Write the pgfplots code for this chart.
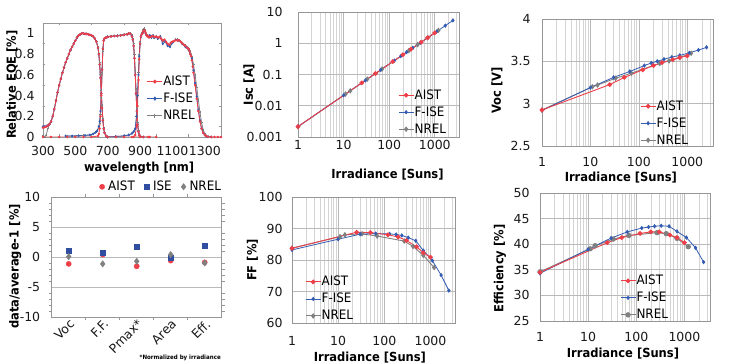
\documentclass[border=0pt]{standalone}
\usepackage{fontspec}
\setmainfont{DejaVu Sans}[FakeStretch=0.92]
\newfontfamily\tickfont{DejaVu Sans}
\usepackage{pgfplots}
\pgfplotsset{compat=1.18}
\definecolor{cA}{RGB}{238,62,72}
\definecolor{cF}{RGB}{52,92,178}
\definecolor{cN}{RGB}{128,128,128}
\definecolor{cS}{RGB}{48,78,160}
\definecolor{gmaj}{RGB}{185,185,185}
\definecolor{gmin}{RGB}{212,212,212}
\definecolor{axc}{RGB}{150,150,150}
\pgfplotsset{
  base/.style={
    scale only axis, anchor=north west,
    axis line style={draw=axc, line width=0.6pt},
    tick label style={font=\tickfont\fontsize{12.5}{13}\selectfont, text=black!90},
    label style={font=\bfseries\fontsize{12.5}{13}\selectfont},
    /pgf/number format/assume math mode=true,
    /pgf/number format/1000 sep={},
    legend cell align=left,
    tick align=outside, major tick length=0pt, minor tick length=2.5pt,
    tick style={draw=axc, line width=0.5pt},
    legend image code/.code={\draw[mark repeat=2,mark phase=2,##1] plot coordinates {(0pt,0pt) (7.5pt,0pt) (15pt,0pt)};},
    legend style={draw=none, fill=none, inner sep=0pt, anchor=north west, row sep=5pt,
      font=\fontsize{13}{14}\selectfont,
      nodes={inner sep=0.5pt, text height=9.5pt, text depth=1.5pt}},
  },
  logp/.style={
    base, xmin=1, xmax=3400,
    xtick={1,10,100,1000}, xticklabels={1,10,100,1000},
    minor xtick={2,3,4,5,6,7,8,9,20,30,40,50,60,70,80,90,200,300,400,500,600,700,800,900,2000,3000},
    minor tick length=0pt,
    xmajorgrids, xminorgrids, ymajorgrids,
    major grid style={draw=gmaj, line width=0.6pt},
    minor grid style={draw=gmin, line width=0.5pt},
  },
  pA/.style={color=cA, line width=0.9pt, mark=*, mark size=1.9pt},
  pF/.style={color=cF, line width=0.8pt, mark=diamond*, mark size=1.6pt},
  pN/.style={color=cN, line width=0.9pt, mark=diamond*, mark size=2.1pt},
  eA/.style={color=cA, line width=0.8pt, mark=*, mark size=0.8pt},
  eF/.style={color=cF, line width=0.8pt, mark=diamond*, mark size=0.9pt},
  eN/.style={color=cN, line width=0.8pt, mark=+, mark size=1.1pt},
}
\begin{document}
\begin{tikzpicture}
\useasboundingbox (0pt,0pt) rectangle (731pt,363pt);

% ---------------- EQE ----------------
\begin{axis}[base, at={(43pt,340pt)}, width=178pt, height=114pt,
  xmin=300, xmax=1400, ymin=0, ymax=1.1,
  xtick={300,500,700,900,1100,1300}, ytick={0,0.2,0.4,0.6,0.8,1},
  minor xtick={400,600,800,1000,1200},
  minor ytick={0.1,0.3,0.5,0.7,0.9},
  tick align=inside,
  xticklabel style={yshift=-6pt}, yticklabel style={xshift=-5pt},
  xlabel={wavelength [nm]}, ylabel={Relative EQE [\%]},
  xlabel style={at={(axis description cs:0.54,0)}, anchor=center, yshift=-31pt},
  ylabel style={at={(axis description cs:-0.174,0.46)}, anchor=center},
  legend style={at={(axis description cs:0.583,0.54)}},
]
\addlegendimage{eA, mark size=1.5pt}\addlegendentry{AIST}
\addlegendimage{eF, mark size=1.6pt}\addlegendentry{F-ISE}
\addlegendimage{eN, mark size=2pt}\addlegendentry{NREL}
% NREL
\addplot[eN, forget plot] coordinates {(300,0.02)(310,0.0)(320,0.02)(330,0.08)(340,0.12)(350,0.15)(360,0.2)(370,0.27)(380,0.35)(390,0.43)(400,0.5)(410,0.56)(420,0.62)(430,0.67)(440,0.72)(450,0.76)(460,0.8)(470,0.84)(480,0.87)(490,0.9)(500,0.93)(510,0.96)(520,0.98)(530,0.99)(540,1.0)(550,1.0)(560,0.995)(570,0.995)(580,0.99)(590,0.985)(600,0.98)(610,0.97)(620,0.95)(630,0.92)(640,0.87)(645,0.81)(650,0.72)(655,0.6)(660,0.45)(665,0.31)(670,0.18)(675,0.09)(680,0.04)(690,0.01)(700,0.0)};
\addplot[eN, forget plot] coordinates {(450,0.01)(500,0.01)(550,0.015)(590,0.02)(610,0.03)(625,0.045)(635,0.06)(645,0.09)(650,0.13)(655,0.22)(660,0.38)(665,0.62)(670,0.83)(675,0.93)(680,0.95)(690,0.965)(700,0.97)(720,0.975)(740,0.975)(760,0.98)(780,0.985)(800,0.99)(820,0.995)(830,1.0)(840,1.0)(850,0.98)(855,0.95)(860,0.9)(865,0.8)(870,0.64)(875,0.46)(880,0.28)(885,0.14)(890,0.06)(895,0.02)(900,0.01)(920,0.0)};
\addplot[eN, forget plot] coordinates {(700,0.0)(750,0.005)(800,0.01)(830,0.02)(850,0.035)(860,0.05)(870,0.08)(878,0.2)(884,0.4)(890,0.62)(895,0.8)(900,0.92)(910,1.0)(920,1.04)(925,1.05)(930,1.03)(940,0.99)(950,0.97)(960,0.98)(970,0.97)(985,0.96)(1000,0.97)(1010,0.95)(1025,0.96)(1040,0.92)(1055,0.93)(1070,0.89)(1085,0.88)(1100,0.91)(1115,0.93)(1130,0.94)(1145,0.93)(1160,0.91)(1175,0.89)(1190,0.87)(1200,0.855)(1210,0.83)(1220,0.78)(1230,0.7)(1240,0.6)(1250,0.48)(1260,0.36)(1270,0.24)(1280,0.14)(1290,0.07)(1300,0.03)(1310,0.01)(1320,0.0)(1340,0.0)};
% F-ISE
\addplot[eF, forget plot] coordinates {(300,0.1)(310,0.1)(320,0.105)(330,0.11)(340,0.125)(350,0.15)(360,0.2)(370,0.27)(380,0.35)(390,0.43)(400,0.5)(410,0.56)(420,0.62)(430,0.67)(440,0.72)(450,0.76)(460,0.8)(470,0.84)(480,0.87)(490,0.9)(500,0.93)(510,0.96)(520,0.98)(530,0.99)(540,1.0)(550,1.0)(560,0.995)(570,0.995)(580,0.99)(590,0.985)(600,0.98)(610,0.97)(620,0.95)(630,0.92)(640,0.86)(645,0.8)(650,0.7)(655,0.57)(660,0.42)(665,0.28)(670,0.16)(675,0.08)(680,0.04)(690,0.01)(700,0.0)};
\addplot[eF, forget plot] coordinates {(440,0.01)(480,0.01)(520,0.012)(560,0.015)(590,0.02)(610,0.03)(625,0.045)(635,0.06)(645,0.1)(650,0.15)(655,0.25)(660,0.42)(665,0.65)(670,0.85)(675,0.93)(680,0.95)(690,0.96)(700,0.965)(720,0.97)(740,0.975)(760,0.975)(780,0.98)(800,0.985)(820,0.99)(830,1.0)(840,0.995)(850,0.97)(855,0.94)(860,0.88)(865,0.76)(870,0.6)(875,0.42)(880,0.25)(885,0.12)(890,0.05)(895,0.02)(900,0.005)(920,0.0)};
\addplot[eF, forget plot] coordinates {(700,0.0)(750,0.005)(800,0.01)(830,0.02)(850,0.035)(860,0.05)(870,0.08)(878,0.2)(884,0.4)(890,0.6)(895,0.78)(900,0.9)(905,0.97)(910,0.99)(915,1.0)(920,1.02)(925,1.03)(930,1.02)(935,1.0)(940,0.98)(950,0.97)(960,0.98)(970,0.96)(980,0.98)(990,0.96)(1000,0.97)(1010,0.95)(1025,0.97)(1040,0.9)(1055,0.92)(1070,0.88)(1085,0.87)(1100,0.91)(1120,0.94)(1140,0.93)(1160,0.9)(1180,0.87)(1200,0.84)(1210,0.8)(1220,0.76)(1230,0.64)(1240,0.52)(1250,0.39)(1260,0.26)(1270,0.16)(1280,0.08)(1290,0.04)(1300,0.02)(1310,0.008)(1320,0.003)(1340,0.0)};
% AIST
\addplot[eA, forget plot] coordinates {(300,0.09)(310,0.095)(320,0.1)(330,0.11)(340,0.125)(350,0.15)(360,0.2)(370,0.27)(380,0.35)(390,0.43)(400,0.5)(410,0.56)(420,0.62)(430,0.67)(440,0.72)(450,0.76)(460,0.8)(470,0.84)(480,0.87)(490,0.9)(500,0.93)(510,0.96)(520,0.98)(530,0.99)(540,1.0)(550,1.0)(560,0.995)(570,0.995)(580,0.99)(590,0.985)(600,0.98)(610,0.97)(620,0.95)(630,0.92)(640,0.86)(645,0.8)(650,0.7)(655,0.57)(660,0.42)(665,0.28)(670,0.16)(675,0.08)(680,0.04)(690,0.01)(700,0.0)(750,0.0)(800,0.0)(850,0.0)(900,0.0)(950,0.0)(1000,0.0)};
\addplot[eA, forget plot] coordinates {(300,0.0)(350,0.0)(400,0.0)(450,0.0)(500,0.0)(550,0.0)(600,0.0)(640,0.01)(645,0.03)(650,0.08)(655,0.2)(660,0.4)(665,0.65)(670,0.85)(675,0.93)(680,0.95)(690,0.96)(700,0.965)(720,0.97)(740,0.975)(760,0.975)(780,0.98)(800,0.985)(820,0.99)(830,1.0)(840,0.995)(850,0.97)(855,0.94)(860,0.88)(865,0.76)(870,0.6)(875,0.42)(880,0.25)(885,0.12)(890,0.05)(895,0.02)(900,0.005)(920,0.0)(960,0.0)};
\addplot[eA, forget plot] coordinates {(860,0.0)(870,0.02)(878,0.1)(884,0.3)(890,0.55)(895,0.75)(900,0.9)(905,0.97)(910,0.99)(915,1.0)(920,1.02)(925,1.03)(930,1.02)(935,1.0)(940,0.98)(945,0.97)(950,0.975)(955,0.96)(960,0.965)(970,0.97)(980,0.975)(990,0.965)(1000,0.97)(1010,0.96)(1020,0.965)(1030,0.95)(1040,0.93)(1050,0.94)(1060,0.92)(1070,0.9)(1080,0.89)(1090,0.91)(1100,0.92)(1110,0.925)(1120,0.935)(1130,0.93)(1140,0.935)(1150,0.92)(1160,0.905)(1170,0.89)(1180,0.88)(1190,0.86)(1200,0.85)(1205,0.83)(1210,0.8)(1215,0.78)(1220,0.74)(1225,0.68)(1230,0.62)(1240,0.5)(1250,0.37)(1260,0.25)(1270,0.15)(1280,0.08)(1290,0.04)(1300,0.02)(1310,0.008)(1320,0.003)(1340,0.0)(1360,0.0)(1380,0.0)(1400,0.0)};
\end{axis}

% ---------------- Isc ----------------
\begin{axis}[logp, xmode=log, ymode=log, at={(298pt,351pt)}, width=161pt, height=125pt,
  ymin=0.001, ymax=10,
  ytick={0.001,0.01,0.1,1,10}, yticklabels={0.001,0.01,0.1,1,10},
  yticklabel style={xshift=-12pt},
  xlabel={Irradiance [Suns]}, ylabel={Isc [A]},
  xlabel style={at={(axis description cs:0.556,0)}, anchor=center, yshift=-38pt},
  ylabel style={at={(axis description cs:-0.304,0.42)}, anchor=center},
  legend style={at={(axis description cs:0.621,0.384)}},
]
\addlegendimage{pA}\addlegendentry{AIST}
\addlegendimage{pF}\addlegendentry{F-ISE}
\addlegendimage{pN}\addlegendentry{NREL}
\addplot[pN, forget plot] coordinates {(1,0.00215)(11,0.02365)(14,0.0301)(33,0.07095)(70,0.1505)(270,0.5805)(420,0.903)(700,1.505)(1200,2.58)};
\addplot[pF, forget plot] coordinates {(1,0.00215)(10,0.0215)(30,0.0645)(65,0.13975)(130,0.2795)(180,0.387)(240,0.516)(330,0.7095)(480,1.032)(700,1.505)(1100,2.365)(1700,3.655)(2500,5.375)};
\addplot[pA, forget plot] coordinates {(1,0.00215)(25,0.05375)(50,0.1075)(120,0.258)(200,0.43)(300,0.645)(500,1.075)(700,1.505)(1000,2.15)};
\end{axis}

% ---------------- Voc ----------------
\begin{axis}[logp, xmode=log, at={(542pt,344pt)}, width=171pt, height=127pt,
  ymin=2.5, ymax=4, ytick={2.5,3,3.5,4},
  xticklabel style={yshift=-8pt}, yticklabel style={xshift=-8pt},
  xlabel={Irradiance [Suns]}, ylabel={Voc [V]},
  xlabel style={at={(axis description cs:0.461,0)}, anchor=center, yshift=-32pt},
  ylabel style={at={(axis description cs:-0.263,0.44)}, anchor=center},
  legend style={at={(axis description cs:0.573,0.362)}},
]
\addlegendimage{pA}\addlegendentry{AIST}
\addlegendimage{pF}\addlegendentry{F-ISE}
\addlegendimage{pN}\addlegendentry{NREL}
\addplot[pN, forget plot] coordinates {(1,2.925)(11,3.2)(14,3.22)(33,3.3)(70,3.36)(270,3.475)(420,3.505)(700,3.545)(1200,3.595)};
\addplot[pF, forget plot] coordinates {(1,2.92)(10,3.19)(30,3.31)(65,3.38)(130,3.45)(180,3.48)(240,3.5)(330,3.525)(480,3.55)(700,3.57)(1100,3.6)(1700,3.633)(2500,3.665)};
\addplot[pA, forget plot] coordinates {(1,2.925)(25,3.225)(50,3.31)(120,3.4)(200,3.45)(300,3.485)(500,3.52)(700,3.545)(1000,3.565)};
\end{axis}

% ---------------- Deviation ----------------
\begin{axis}[base, at={(51.7pt,166pt)}, width=170pt, height=120pt,
  xmin=-0.5, xmax=4.5, ymin=-10, ymax=10,
  xtick={0,1,2,3,4}, xticklabels={Voc,F.F.,Pmax*,Area,Eff.},
  minor xtick={0.5,1.5,2.5,3.5},
  ytick={-10,-5,0,5,10}, minor ytick={-9,-8,-7,-6,-4,-3,-2,-1,1,2,3,4,6,7,8,9},
  ymajorgrids, major grid style={draw=gmaj, line width=0.6pt},
  minor tick length=3pt,
  xticklabel style={rotate=45, anchor=north east, inner sep=1pt},
  yticklabel style={xshift=-8pt},
  ylabel={data/average-1 [\%]},
  ylabel style={at={(axis description cs:-0.215,0.42)}, anchor=center},
  legend columns=3,
  legend style={at={(axis description cs:0.64,1)}, anchor=south, yshift=4pt,
     /tikz/every odd column/.append style={column sep=3pt},
     /tikz/every even column/.append style={column sep=9pt}},
  legend image code/.code={\draw[#1] plot coordinates {(0pt,0pt)};},
]
\addplot[only marks, mark=*, mark size=2.6pt, color=cA] coordinates {(0,-1.15)(1,0.4)(2,-1.55)(3,-0.6)(4,-0.9)};
\addlegendentry{AIST}
\addplot[only marks, mark=square*, mark size=2.6pt, color=cS] coordinates {(0,1.05)(1,0.67)(2,1.67)(3,-0.15)(4,1.83)};
\addlegendentry{ISE}
\addplot[only marks, mark=diamond*, mark size=3.2pt, color=cN] coordinates {(0,0.05)(1,-1.15)(2,-0.72)(3,0.4)(4,-1.0)};
\addlegendentry{NREL}
\end{axis}
\node[anchor=east, inner sep=0pt, font=\bfseries\fontsize{6}{7}\selectfont] at (221pt,5pt) {*Normalized by irradiance};

% ---------------- FF ----------------
\begin{axis}[logp, xmode=log, at={(292pt,166pt)}, width=163pt, height=126pt,
  ymin=60, ymax=100, ytick={60,70,80,90,100},
  xticklabel style={yshift=-10pt}, yticklabel style={xshift=-6pt},
  xlabel={Irradiance [Suns]}, ylabel={FF [\%]},
  xlabel style={at={(axis description cs:0.478,0)}, anchor=center, yshift=-35pt},
  ylabel style={at={(axis description cs:-0.242,0.5)}, anchor=center},
  legend style={at={(axis description cs:0.08,0.375)}},
]
\addlegendimage{pA}\addlegendentry{AIST}
\addlegendimage{pF}\addlegendentry{F-ISE}
\addlegendimage{pN}\addlegendentry{NREL}
\addplot[pN, forget plot] coordinates {(1,83.8)(11,87.4)(14,88.0)(33,88.3)(70,87.6)(270,86.0)(420,84.3)(700,81.5)(1200,77.6)};
\addplot[pF, forget plot] coordinates {(1,83.2)(10,86.6)(30,88.2)(65,88.4)(130,88.3)(180,88.1)(240,87.8)(330,87.1)(480,86.1)(700,83.0)(1100,79.8)(1700,75.2)(2500,70.3)};
\addplot[pA, forget plot] coordinates {(1,83.7)(25,88.8)(50,88.7)(120,88.0)(200,87.3)(300,86.2)(500,84.2)(700,82.3)(1000,80.9)};
\end{axis}

% ---------------- Efficiency ----------------
\begin{axis}[logp, xmode=log, at={(540pt,170pt)}, width=170pt, height=128pt,
  ymin=25, ymax=50, ytick={25,30,35,40,45,50},
  xticklabel style={yshift=-7.5pt}, yticklabel style={xshift=-7pt},
  xlabel={Irradiance [Suns]}, ylabel={Efficiency [\%]},
  xlabel style={at={(axis description cs:0.488,0)}, anchor=center, yshift=-33pt},
  ylabel style={at={(axis description cs:-0.235,0.41)}, anchor=center},
  legend style={at={(axis description cs:0.47,0.362)}},
]
\addlegendimage{pA}\addlegendentry{AIST}
\addlegendimage{pF}\addlegendentry{F-ISE}
\addlegendimage{pN, mark=*, mark size=2.2pt}\addlegendentry{NREL}
\addplot[pN, mark=*, mark size=2.2pt, forget plot] coordinates {(1,34.6)(11,39.1)(14,39.7)(33,41.0)(70,41.7)(270,42.25)(420,42.05)(700,41.15)(1200,39.5)};
\addplot[pF, forget plot] coordinates {(1,34.3)(10,39.0)(30,41.2)(65,42.4)(130,43.15)(180,43.35)(240,43.5)(330,43.6)(480,43.5)(700,42.5)(1100,41.3)(1700,39.3)(2500,36.5)};
\addplot[pA, forget plot] coordinates {(1,34.5)(25,40.3)(50,41.3)(120,42.1)(200,42.4)(300,42.4)(500,41.8)(700,41.3)(1000,40.3)};
\end{axis}
\end{tikzpicture}
\end{document}
